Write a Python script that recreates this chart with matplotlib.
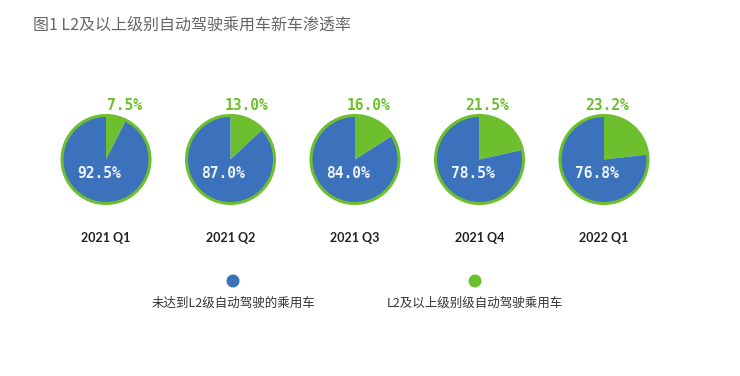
import matplotlib
matplotlib.use("Agg")
import matplotlib.pyplot as plt
from matplotlib.patches import Circle

# data
quarters = ["2021 Q1", "2021 Q2", "2021 Q3", "2021 Q4", "2022 Q1"]
l2_share = [7.5, 13.0, 16.0, 21.5, 23.2]
non_l2_share = [92.5, 87.0, 84.0, 78.5, 76.8]
legend_labels = ["未达到L2级自动驾驶的乘用车", "L2及以上级别级自动驾驶乘用车"]
title = "图1 L2及以上级别自动驾驶乘用车新车渗透率"

BLUE = "#3b72bb"
GREEN = "#6ebf2e"
CJK = ["Noto Sans CJK SC", "DejaVu Sans"]

# layout (pixel coordinates, y up)
W, H = 740, 376
x0, step = 106, 124.5
cy = H - 159.5
r = 44
green_dx = [19, 16, 13, 8, 3]

fig = plt.figure(figsize=(W / 100, H / 100), dpi=100)
ax = fig.add_axes([0, 0, 1, 1])

for i, q in enumerate(quarters):
    cx = x0 + i * step
    ax.pie([l2_share[i], non_l2_share[i]], colors=[GREEN, BLUE],
           startangle=90, counterclock=False, center=(cx, cy), radius=r,
           frame=True, wedgeprops=dict(linewidth=0))
    ax.add_patch(Circle((cx, cy), r, facecolor="none", edgecolor=GREEN,
                        linewidth=2.2, zorder=3))
    ax.text(cx - 7, cy - 14, f"{non_l2_share[i]:.1f}%", color="#eef3fa",
            fontsize=10.5, fontweight="bold", family="DejaVu Sans Mono",
            ha="center", va="center", zorder=4)
    ax.text(cx + green_dx[i], H - 105, f"{l2_share[i]:.1f}%", color=GREEN,
            fontsize=10.5, fontweight="bold", family="DejaVu Sans Mono",
            ha="center", va="center")
    ax.text(cx, H - 238, q, color="#222222", fontsize=9, fontweight="bold",
            family="Lato", ha="center", va="center")

# legend
for lx, col, lab in [(233, BLUE, legend_labels[0]), (475, GREEN, legend_labels[1])]:
    ax.add_patch(Circle((lx, H - 281), 6.5, facecolor=col, edgecolor="none"))
    ax.text(lx, H - 303, lab, color="#333333", fontsize=9, family=CJK,
            ha="center", va="center")

ax.text(33, H - 25, title, color="#666666", fontsize=11.5, family=CJK,
        ha="left", va="center")

ax.set_xlim(0, W)
ax.set_ylim(0, H)
ax.set_aspect("auto")
ax.axis("off")

fig.savefig("out.png", dpi=100, facecolor="white")
